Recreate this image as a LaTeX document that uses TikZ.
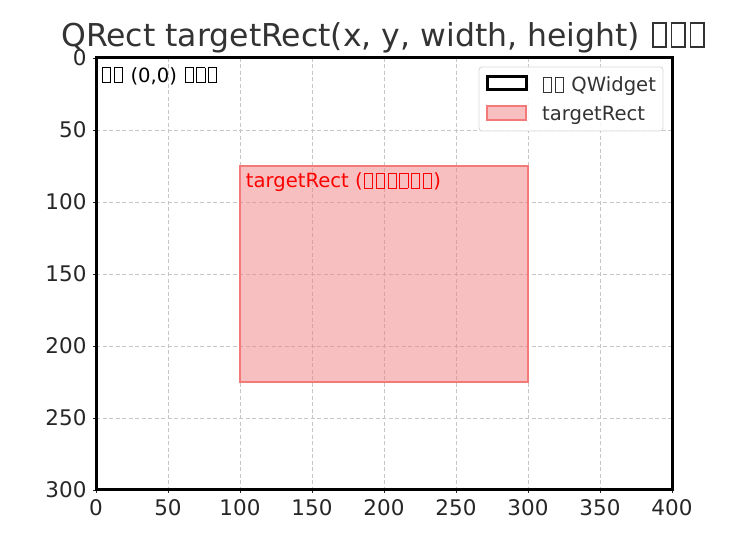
\documentclass[tikz,border=0pt]{standalone}
\usepackage{fontspec}
\setmainfont{DejaVu Sans}
\newcommand\tofu{\makebox[0.6em]{\setlength\fboxsep{0pt}\setlength\fboxrule{0.042em}\fbox{\rule{0pt}{0.72em}\rule{0.38em}{0pt}}}}
\definecolor{lightcoral}{HTML}{F08080}
\definecolor{rectedge}{HTML}{F47A7A}
\definecolor{txtgray}{HTML}{262626}
\tikzset{
  gridline/.style={draw=gray!45, line width=0.8pt, dash pattern=on 4pt off 2.5pt},
  tick/.style={line width=0.9pt, draw=txtgray},
  ticklbl/.style={font=\fontsize{21.5}{25}\selectfont, text=txtgray, inner sep=0pt},
  trect/.style={fill=lightcoral, fill opacity=0.5, draw=rectedge, line width=2pt},
  wrect/.style={draw=black, line width=3pt},
  lbl/.style={font=\fontsize{19.6}{23}\selectfont, inner sep=0pt},
  legbox/.style={draw=gray!30, fill=white, fill opacity=0.85, rounded corners=3pt, line width=0.9pt},
}
\begin{document}
\begin{tikzpicture}[x=1pt,y=1pt]
\useasboundingbox (0,0) rectangle (730,537);
\begin{scope}[shift={(96,479)}, x=1.44pt, y=-1.44pt]
  % grid
  \foreach \gx in {50,100,...,350} \draw[gridline] (\gx,0) -- (\gx,300);
  \foreach \gy in {50,100,...,250} \draw[gridline] (0,\gy) -- (400,\gy);
  % ticks and labels
  \foreach \gx in {0,50,...,400} {
    \coordinate (xb\gx) at (\gx,300);
    \draw[tick] (xb\gx) -- ++(0,-3.5pt);
    \node[ticklbl, anchor=north, yshift=-9.5pt] (xt\gx) at (xb\gx) {\gx};
  }
  \foreach \gy in {0,50,...,300} {
    \coordinate (yb\gy) at (0,\gy);
    \draw[tick] (yb\gy) -- ++(-3.5pt,0);
    \node[ticklbl, anchor=east, xshift=-9.3pt] (yt\gy) at (yb\gy) {\gy};
  }
  % target rectangle
  \draw[trect] (100,75) rectangle (300,225);
  \node[lbl, anchor=north west, text=red] (tlabel) at (104,79.5) {targetRect (\tofu\tofu\tofu\tofu\tofu\tofu)};
  % widget rectangle
  \draw[wrect] (0,0) rectangle (400,300);
  \node[lbl, anchor=north west, text=black] (origin) at (3.2,6.4) {\tofu\tofu{} (0,0) \tofu\tofu\tofu};
\end{scope}
% title
\node[font=\fontsize{31.5}{37}\selectfont, text=black!80, anchor=base, inner sep=0pt] (title) at (384,490.5) {QRect targetRect(x, y, width, height) \tofu\tofu\tofu};
% legend
\draw[legbox] (479,470) rectangle (663,406);
\draw[wrect, fill=white] (487,460) rectangle (526,447);
\draw[trect, line width=1.8pt] (487,431) rectangle (526,417);
\node[lbl, anchor=base west, text=black!80] (leg1) at (541.5,445.3) {\tofu\tofu{} QWidget};
\node[lbl, anchor=base west, text=black!80] (leg2) at (542,416.5) {targetRect};
\end{tikzpicture}
\end{document}
